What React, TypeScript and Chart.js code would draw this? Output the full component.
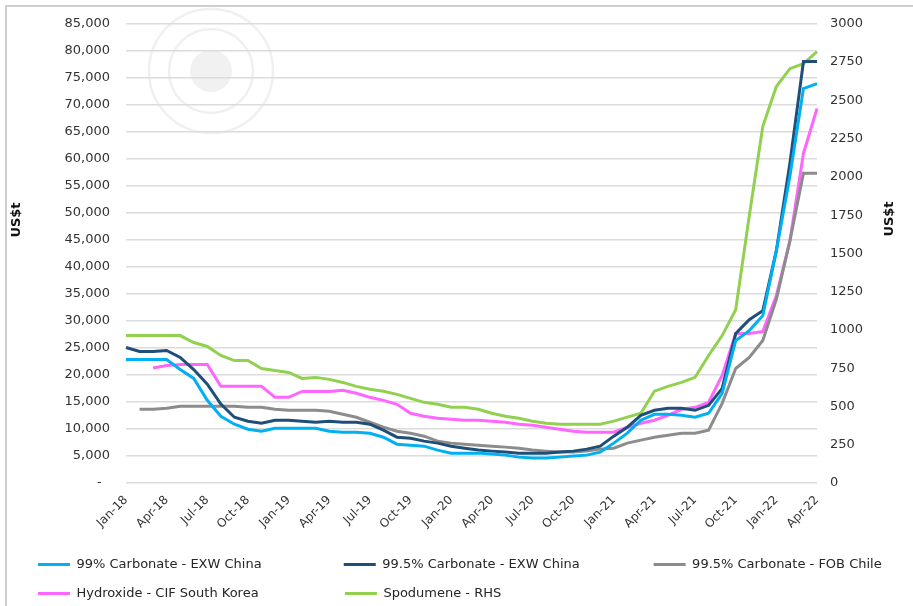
import React, { useEffect, useRef } from 'react';
import { Chart, registerables } from 'chart.js';

Chart.register(...registerables);

const months = [
  'Jan-18', 'Feb-18', 'Mar-18', 'Apr-18', 'May-18', 'Jun-18', 'Jul-18', 'Aug-18', 'Sep-18', 'Oct-18', 'Nov-18', 'Dec-18',
  'Jan-19', 'Feb-19', 'Mar-19', 'Apr-19', 'May-19', 'Jun-19', 'Jul-19', 'Aug-19', 'Sep-19', 'Oct-19', 'Nov-19', 'Dec-19',
  'Jan-20', 'Feb-20', 'Mar-20', 'Apr-20', 'May-20', 'Jun-20', 'Jul-20', 'Aug-20', 'Sep-20', 'Oct-20', 'Nov-20', 'Dec-20',
  'Jan-21', 'Feb-21', 'Mar-21', 'Apr-21', 'May-21', 'Jun-21', 'Jul-21', 'Aug-21', 'Sep-21', 'Oct-21', 'Nov-21', 'Dec-21',
  'Jan-22', 'Feb-22', 'Mar-22', 'Apr-22',
];

const seriesNames = [
  '99% Carbonate - EXW China',
  '99.5% Carbonate - EXW China',
  '99.5% Carbonate - FOB Chile',
  'Hydroxide - CIF South Korea',
  'Spodumene - RHS',
];

const carbonate99China = [
  22870, 22870, 22870, 22870, 21020, 19360, 15300, 12350, 10880, 9960, 9590, 10140,
  10140, 10140, 10140, 9590, 9400, 9400, 9220, 8480, 7190, 7010, 6820, 6090,
  5530, 5530, 5530, 5350, 5160, 4790, 4610, 4610, 4790, 4980, 5160, 5720,
  7380, 9220, 11620, 12720, 12720, 12540, 12170, 12910, 16600, 26370, 28210, 30980,
  42970, 56800, 73020, 73940,
];

const carbonate995China = [
  25080, 24340, 24340, 24525, 23230, 21000, 18300, 14600, 12170, 11430, 11060, 11620,
  11620, 11430, 11250, 11430, 11250, 11250, 10880, 9770, 8480, 8300, 7750, 7380,
  6820, 6450, 6090, 5900, 5720, 5530, 5530, 5530, 5720, 5900, 6270, 6820,
  8670, 10330, 12540, 13460, 13830, 13830, 13460, 14380, 17520, 27660, 30240, 31900,
  43000, 59190, 78000, 78000,
];

const carbonate995Chile = [
  null, 13650, 13650, 13830, 14200, 14200, 14200, 14200, 14200, 14010, 14010, 13650,
  13460, 13460, 13460, 13280, 12720, 12170, 11250, 10330, 9590, 9220, 8670, 7750,
  7380, 7190, 7010, 6820, 6640, 6450, 6090, 5900, 5720, 5720, 5900, 6270,
  6450, 7380, 7930, 8480, 8850, 9220, 9220, 9770, 14750, 21200, 23230, 26370,
  34000, 44800, 57350, 57350,
];

const hydroxideKorea = [
  null, null, 21300, 21760, 21940, 21940, 21940, 17900, 17890, 17890, 17890, 15860,
  15860, 16960, 16960, 16960, 17150, 16600, 15860, 15300, 14570, 12910, 12350, 11990,
  11800, 11620, 11620, 11430, 11250, 10880, 10700, 10330, 9960, 9590, 9400, 9400,
  9400, 10330, 11060, 11620, 12540, 13650, 14010, 14940, 19900, 27660, 27660, 28030,
  34700, 44800, 61000, 69330,
];

const spodumeneRHS = [
  963, 963, 963, 963, 963, 918, 892, 833, 800, 800, 748, 735,
  722, 683, 690, 677, 657, 631, 612, 599, 579, 553, 527, 514,
  495, 495, 482, 456, 436, 423, 404, 390, 384, 384, 384, 384,
  404, 430, 456, 600, 631, 657, 690, 833, 963, 1132, 1744, 2330,
  2590, 2707, 2740, 2818,
];

const leftAxisMax = 85000;
const leftAxisStep = 5000;
const rightAxisMax = 3000;
const rightAxisStep = 250;
const axisTitle = 'US$t';

const FONT = '"DejaVu Sans", sans-serif';

const decorPlugin = {
  id: 'decor',
  beforeDraw(chart: any) {
    const ctx = chart.ctx;
    ctx.save();
    ctx.strokeStyle = '#cfcfcf';
    ctx.lineWidth = 2;
    ctx.beginPath();
    ctx.moveTo(6, chart.height);
    ctx.lineTo(6, 6);
    ctx.lineTo(chart.width, 6);
    ctx.stroke();
    ctx.strokeStyle = '#f0f0f0';
    ctx.lineWidth = 2.5;
    ctx.beginPath();
    ctx.arc(211, 71, 62, 0, Math.PI * 2);
    ctx.stroke();
    ctx.beginPath();
    ctx.arc(211, 71, 42, 0, Math.PI * 2);
    ctx.stroke();
    ctx.fillStyle = '#f1f1f1';
    ctx.beginPath();
    ctx.arc(211, 71, 21, 0, Math.PI * 2);
    ctx.fill();
    ctx.restore();
  },
  afterDraw(chart: any) {
    const ctx = chart.ctx;
    ctx.save();
    ctx.font = `bold 13px ${FONT}`;
    ctx.fillStyle = '#111';
    ctx.textAlign = 'center';
    ctx.textBaseline = 'middle';
    [[17, 220], [890, 219]].forEach(([x, y]) => {
      ctx.save();
      ctx.translate(x, y);
      ctx.rotate(-Math.PI / 2);
      ctx.fillText(axisTitle, 0, 0);
      ctx.restore();
    });
    ctx.restore();
  },
};

export default function App() {
  const ref = useRef<HTMLCanvasElement | null>(null);

  useEffect(() => {
    if (!ref.current) return;
    const colors = ['#00B0F0', '#1F4E79', '#8C8C8C', '#FF66FF', '#92D050'];
    const values = [carbonate99China, carbonate995China, carbonate995Chile, hydroxideKorea, spodumeneRHS];
    const defaultGen = (Chart.defaults as any).plugins.legend.labels.generateLabels;
    const padTargets: Record<number, number> = { 0: 253, 1: 256, 3: 253 };

    const chart = new Chart(ref.current, {
      type: 'line',
      data: {
        labels: months,
        datasets: values.map((v, i) => ({
          label: seriesNames[i],
          data: v,
          borderColor: colors[i],
          backgroundColor: colors[i],
          borderWidth: 3,
          pointRadius: 0,
          tension: 0,
          fill: false,
          yAxisID: i === 4 ? 'y1' : 'y',
        })),
      },
      options: {
        animation: false,
        responsive: true,
        maintainAspectRatio: false,
        layout: { padding: { left: 22, right: 0, top: 22, bottom: -4 } },
        plugins: {
          tooltip: { enabled: false },
          legend: {
            position: 'bottom',
            align: 'start',
            labels: {
              usePointStyle: true,
              pointStyle: 'line',
              pointStyleWidth: 32,
              padding: 16,
              color: '#262626',
              font: { family: FONT, size: 13 },
              generateLabels: (c: any) => {
                const items = defaultGen(c);
                const ctx = c.ctx;
                ctx.save();
                ctx.font = `13px ${FONT}`;
                items.forEach((it: any, i: number) => {
                  const target = padTargets[i];
                  if (target) {
                    let t = it.text;
                    while (ctx.measureText(t + ' ').width <= target) t += ' ';
                    it.text = t;
                  }
                });
                ctx.restore();
                return items;
              },
            },
          },
        },
        scales: {
          x: {
            type: 'category',
            offset: false,
            grid: { display: false },
            border: { display: false },
            afterFit: (s: any) => { s.height = 59; },
            ticks: {
              autoSkip: false,
              maxRotation: 45,
              minRotation: 45,
              padding: 2,
              color: '#333',
              font: { family: FONT, size: 12 },
              callback: (_v: any, idx: number) => (idx % 3 === 0 ? months[idx] : null),
            },
          },
          y: {
            position: 'left',
            min: 0,
            max: leftAxisMax,
            grid: { color: '#dcdcdc', lineWidth: 1.5, drawTicks: false },
            border: { display: false },
            afterFit: (s: any) => { s.width = 104; },
            ticks: {
              stepSize: leftAxisStep,
              padding: 16,
              color: '#333',
              font: { family: FONT, size: 13 },
              callback: (v: any) => (v === 0 ? '-  ' : Number(v).toLocaleString('en-US')),
            },
          },
          y1: {
            position: 'right',
            min: 0,
            max: rightAxisMax,
            grid: { display: false, drawTicks: false },
            border: { display: false },
            afterFit: (s: any) => { s.width = 96; },
            ticks: {
              stepSize: rightAxisStep,
              padding: 13,
              color: '#333',
              font: { family: FONT, size: 13 },
              callback: (v: any) => String(v),
            },
          },
        },
      },
      plugins: [decorPlugin],
    } as any);

    return () => chart.destroy();
  }, []);

  return (
    <div style={{ position: 'fixed', left: 0, top: 0, width: 913, height: 606, background: '#fff' }}>
      <canvas ref={ref} />
    </div>
  );
}
